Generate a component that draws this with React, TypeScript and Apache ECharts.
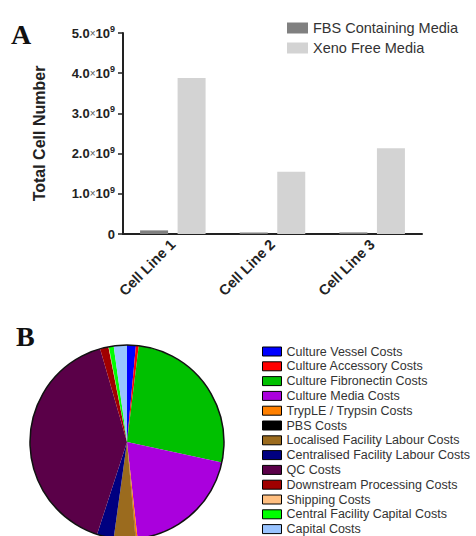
import React, { useEffect, useRef } from "react";
import * as echarts from "echarts";

const categories = ["Cell Line 1", "Cell Line 2", "Cell Line 3"];
const fbsValues = [0.09e9, 0.04e9, 0.04e9];
const xenoValues = [3.88e9, 1.55e9, 2.13e9];
const barSeriesNames = ["FBS Containing Media", "Xeno Free Media"];
const barColors = ["#808080", "#d3d3d3"];

const costNames = [
  "Culture Vessel Costs",
  "Culture Accessory Costs",
  "Culture Fibronectin Costs",
  "Culture Media Costs",
  "TrypLE / Trypsin Costs",
  "PBS Costs",
  "Localised Facility Labour Costs",
  "Centralised Facility Labour Costs",
  "QC Costs",
  "Downstream Processing Costs",
  "Shipping Costs",
  "Central Facility Capital Costs",
  "Capital Costs",
];
const costValues = [1.47, 0.47, 26.5, 19.9, 0.28, 0.05, 3.6, 2.8, 40.6, 1.4, 0.08, 0.8, 2.2];
const costColors = [
  "#0000ff",
  "#ff0000",
  "#00c000",
  "#aa00dd",
  "#ff8000",
  "#000000",
  "#9b6b1e",
  "#000080",
  "#5a0048",
  "#a00000",
  "#ffbf80",
  "#00ff00",
  "#99c4ff",
];

export default function App() {
  const ref = useRef<HTMLDivElement>(null);
  useEffect(() => {
    if (!ref.current) return;
    const chart = echarts.init(ref.current, null, { renderer: "svg" });
    const font = "Liberation Sans, Arial, sans-serif";
    chart.setOption({
      animation: false,
      textStyle: { fontFamily: font },
      graphic: [
        {
          type: "text",
          left: 11,
          top: 20,
          style: { text: "A", font: "bold 28px 'Liberation Serif', 'Times New Roman', serif", fill: "#111" },
        },
        {
          type: "text",
          left: 16,
          top: 322,
          style: { text: "B", font: "bold 28px 'Liberation Serif', 'Times New Roman', serif", fill: "#111" },
        },
      ],
      legend: [
        {
          data: barSeriesNames,
          orient: "vertical",
          left: 282,
          top: 15,
          itemWidth: 21,
          itemHeight: 11,
          itemGap: 4,
          icon: "rect",
          textStyle: { fontSize: 14.5, lineHeight: 16, color: "#333", fontFamily: font },
          selectedMode: false,
        },
        {
          data: costNames,
          orient: "vertical",
          left: 257,
          top: 340,
          height: 240,
          itemWidth: 19,
          itemHeight: 9,
          itemGap: 1.8,
          icon: "rect",
          itemStyle: { borderColor: "#000", borderWidth: 1 },
          textStyle: { fontSize: 12.5, color: "#333", lineHeight: 12, fontFamily: font },
          selectedMode: false,
        },
      ],
      grid: { left: 123, right: 54, top: 33, bottom: 302, containLabel: false },
      xAxis: {
        type: "category",
        data: categories,
        axisLine: { lineStyle: { color: "#222", width: 2 } },
        axisTick: { alignWithLabel: true, length: 5, lineStyle: { color: "#222", width: 1.5 } },
        axisLabel: {
          rotate: 45,
          margin: 8,
          fontSize: 14.5,
          fontWeight: "bold",
          color: "#222",
          fontFamily: font,
        },
      },
      yAxis: {
        type: "value",
        min: 0,
        max: 5e9,
        interval: 1e9,
        name: "Total Cell Number",
        nameLocation: "middle",
        nameGap: 76,
        nameTextStyle: { fontSize: 16, fontWeight: "bold", color: "#222", fontFamily: font },
        splitLine: { show: false },
        axisLine: { show: true, lineStyle: { color: "#222", width: 2 } },
        axisTick: { show: true, length: 5, lineStyle: { color: "#222", width: 1.5 } },
        axisLabel: {
          margin: 8,
          color: "#222",
          fontFamily: font,
          formatter: (v: number) =>
            v === 0 ? "{m|0}" : `{m|${(v / 1e9).toFixed(1)}}{x|×}{m|10}{s|9}`,
          rich: {
            m: { fontSize: 13, fontWeight: "bold", color: "#222", fontFamily: font },
            x: { fontSize: 10, color: "#555", fontFamily: font },
            s: { fontSize: 9, fontWeight: "bold", color: "#222", padding: [0, 0, 8, 0], fontFamily: font },
          },
        },
      },
      series: [
        {
          name: barSeriesNames[0],
          type: "bar",
          data: fbsValues,
          barWidth: 28,
          barGap: "34%",
          itemStyle: { color: barColors[0] },
        },
        {
          name: barSeriesNames[1],
          type: "bar",
          data: xenoValues,
          barWidth: 28,
          barGap: "34%",
          itemStyle: { color: barColors[1] },
        },
        {
          name: "Costs",
          type: "pie",
          center: [127, 442],
          radius: 97,
          startAngle: 90,
          clockwise: true,
          label: { show: false },
          labelLine: { show: false },
          silent: true,
          data: costNames.map((n, i) => ({ name: n, value: costValues[i], itemStyle: { color: costColors[i] } })),
        },
        {
          name: "outline",
          type: "pie",
          center: [127, 442],
          radius: 97,
          silent: true,
          label: { show: false },
          labelLine: { show: false },
          data: [{ name: "outline", value: 1, itemStyle: { color: "rgba(0,0,0,0)", borderColor: "#111", borderWidth: 1.5 } }],
        },
      ],
    });
    return () => chart.dispose();
  }, []);
  return (
    <div
      ref={ref}
      style={{ position: "fixed", left: 0, top: 0, width: 476, height: 536, background: "#fff" }}
    />
  );
}
